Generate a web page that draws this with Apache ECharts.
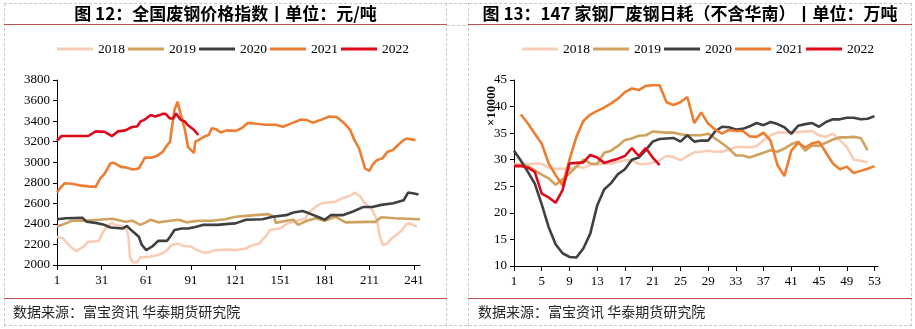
<!DOCTYPE html>
<html>
<head>
<meta charset="utf-8">
<script src="https://cdn.jsdelivr.net/npm/echarts@6/dist/echarts.min.js"></script>
<style>
  html, body { margin: 0; padding: 0; background: #fff; }
  #chart { width: 915px; height: 329px; }
</style>
</head>
<body>
<div id="chart"></div>
<script>
// ---- Figure 12: national scrap steel price index (yuan/ton), [day, value]
const years = ['2018', '2019', '2020', '2021', '2022'];
const colors = ['#F9CDB5', '#CFA25E', '#404040', '#ED7D31', '#E0081B'];

const price2018 = [[1,2275],[5,2260],[10,2180],[14,2135],[19,2180],[22,2225],[29,2235],[32,2325],[36,2390],[38,2410],[40,2390],[45,2375],[48,2340],[49,2275],[50,2080],[52,2025],[55,2030],[57,2075],[63,2080],[67,2090],[72,2115],[75,2145],[78,2195],[82,2210],[86,2185],[91,2180],[95,2145],[100,2120],[103,2120],[107,2145],[116,2150],[121,2145],[128,2160],[131,2185],[137,2210],[139,2245],[142,2290],[144,2340],[151,2355],[156,2405],[160,2420],[168,2455],[170,2505],[175,2570],[179,2600],[188,2615],[193,2650],[199,2680],[201,2705],[205,2665],[207,2615],[213,2535],[216,2440],[218,2275],[220,2195],[223,2210],[226,2260],[229,2290],[233,2340],[236,2400],[238,2405],[242,2380],[243,2380]];
const price2019 = [[1,2375],[7,2405],[11,2430],[18,2430],[29,2440],[38,2450],[47,2420],[52,2430],[57,2390],[60,2410],[64,2440],[69,2415],[77,2430],[83,2440],[88,2415],[96,2430],[105,2430],[114,2445],[121,2470],[130,2480],[143,2495],[147,2470],[148,2410],[155,2430],[160,2440],[163,2390],[169,2430],[175,2455],[181,2430],[188,2470],[195,2415],[210,2420],[215,2420],[219,2465],[228,2455],[245,2445]];
const price2020 = [[1,2445],[7,2455],[18,2460],[21,2420],[27,2410],[32,2395],[37,2365],[45,2355],[48,2380],[52,2325],[56,2275],[58,2195],[61,2145],[65,2180],[69,2235],[75,2235],[77,2275],[80,2340],[85,2355],[89,2355],[94,2370],[99,2390],[109,2390],[116,2400],[121,2405],[128,2440],[139,2445],[146,2470],[155,2485],[160,2510],[166,2525],[170,2505],[177,2465],[181,2440],[185,2485],[193,2485],[200,2520],[207,2565],[213,2565],[219,2585],[227,2600],[234,2630],[237,2705],[241,2695],[244,2685]];
const price2021 = [[1,2705],[3,2745],[6,2795],[11,2790],[16,2775],[22,2765],[27,2760],[30,2840],[33,2890],[37,2990],[39,2995],[44,2955],[47,2950],[52,2930],[56,2940],[58,2990],[60,3045],[65,3045],[68,3060],[72,3100],[75,3165],[77,3200],[78,3315],[80,3510],[82,3590],[84,3475],[87,3315],[89,3150],[91,3120],[93,3090],[94,3200],[96,3215],[100,3250],[103,3265],[105,3330],[108,3320],[111,3290],[115,3310],[121,3305],[125,3330],[129,3380],[132,3380],[141,3365],[148,3365],[153,3345],[159,3380],[165,3415],[169,3410],[173,3385],[178,3410],[184,3445],[189,3440],[194,3380],[198,3315],[201,3215],[204,3135],[206,3040],[208,2940],[211,2915],[213,2975],[216,3020],[220,3040],[223,3100],[227,3120],[230,3165],[234,3215],[236,3230],[242,3215]];
const price2022 = [[1,3210],[4,3255],[22,3255],[27,3300],[33,3295],[38,3255],[42,3300],[47,3310],[51,3340],[55,3350],[57,3395],[60,3415],[64,3460],[67,3445],[72,3470],[74,3470],[77,3425],[79,3425],[81,3475],[84,3415],[87,3395],[89,3360],[93,3315],[96,3265]];
const priceTicks = [1, 31, 61, 91, 121, 151, 181, 211, 241];

// ---- Figure 13: weekly scrap consumption of 147 mills (10k tons), week 1..53
const cons2018 = [29.1,29.2,29.2,29.3,29.2,28.5,28.3,28.3,28.2,28.7,28.5,29.0,29.1,29.3,29.2,29.6,29.9,29.9,29.2,29.2,29.4,29.9,30.7,30.5,29.9,30.7,31.4,31.5,31.7,31.5,31.5,31.9,32.4,32.4,32.3,32.6,33.7,34.6,35.1,35.1,35.1,35.2,35.3,35.4,34.6,34.3,34.9,33.7,32.4,30.0,29.8,29.5];
const cons2019 = [29.0,29.0,28.8,28.0,27.2,26.5,25.3,26.3,27.4,28.7,30.0,29.3,29.2,31.3,31.7,32.6,33.7,34.0,34.5,34.6,35.3,35.2,35.1,35.1,34.8,34.6,34.6,34.6,34.9,34.0,33.1,32.1,30.8,30.8,30.4,30.9,31.3,31.8,31.5,32.1,32.9,33.4,31.7,32.7,32.6,33.2,33.8,34.2,34.2,34.3,34.1,31.8];
const cons2020 = [31.7,29.8,27.7,25.5,21.6,17.3,14.1,12.4,11.7,11.6,13.3,16.1,21.4,24.4,25.6,27.3,28.2,30.0,30.4,31.8,33.4,33.9,34.0,34.1,33.4,34.6,33.4,33.6,33.6,35.3,36.2,36.1,35.7,35.8,36.3,36.9,36.5,37.1,36.7,36.1,34.9,36.4,36.7,36.9,36.2,37.1,37.6,37.6,37.9,37.9,37.6,37.7,38.2];
const cons2021 = [null,38.5,36.8,34.9,33.0,29.3,27.1,25.2,30.0,34.3,37.3,38.5,39.2,39.8,40.6,41.5,42.7,43.4,43.1,43.9,44.0,44.0,40.8,40.3,40.8,41.8,36.9,38.9,36.8,35.7,34.9,35.6,35.4,35.4,34.4,34.3,35.1,33.6,29.0,26.9,31.7,33.2,32.3,33.1,33.4,31.3,29.3,28.2,28.7,27.5,27.9,28.3,28.8];
const cons2022 = [28.8,28.8,28.5,27.7,23.6,22.9,21.9,24.3,29.3,29.4,29.5,30.9,30.4,29.4,29.8,30.2,30.7,32.2,30.7,32.2,30.4,29.0];
const weekTicks = [1, 5, 9, 13, 17, 21, 25, 29, 33, 37, 41, 45, 49, 53];

const priceSeries = [price2018, price2019, price2020, price2021, price2022];
const consSeries = [cons2018, cons2019, cons2020, cons2021, cons2022];

const serif = 'Liberation Serif, Times New Roman, serif';
const cjk = 'Noto Sans CJK SC, sans-serif';
const axisText = { fontFamily: serif, fontSize: 13, color: '#000', formatter: v => String(v) };

function xAxisFor(grid, max, ticks) {
  return {
    type: 'value', gridIndex: grid, min: 1, max: max,
    axisLine: { show: true, onZero: false, lineStyle: { color: '#000', width: 1 } },
    axisTick: { show: true, length: 5, lineStyle: { color: '#000' }, customValues: ticks },
    axisLabel: Object.assign({ margin: 9, customValues: ticks }, axisText),
    splitLine: { show: false }
  };
}
function yAxisFor(grid, min, max, step) {
  return {
    type: 'value', gridIndex: grid, min: min, max: max, interval: step,
    axisLine: { show: true, lineStyle: { color: '#000', width: 1 } },
    axisTick: { show: true, length: 4, lineStyle: { color: '#000' } },
    axisLabel: Object.assign({ margin: 7 }, axisText),
    splitLine: { show: false }
  };
}

const series = [];
years.forEach((y, i) => {
  series.push({
    name: y, type: 'line', xAxisIndex: 0, yAxisIndex: 0,
    data: priceSeries[i], showSymbol: false, symbol: 'none',
    lineStyle: { color: colors[i], width: 2.6 }, itemStyle: { color: colors[i] }, z: 2 + i
  });
});
years.forEach((y, i) => {
  series.push({
    name: y, type: 'line', xAxisIndex: 1, yAxisIndex: 1,
    data: consSeries[i].map((v, k) => [k + 1, v]), showSymbol: false, symbol: 'none',
    connectNulls: false,
    lineStyle: { color: colors[i], width: 2.6 }, itemStyle: { color: colors[i] }, z: 2 + i
  });
});

function legendAt(left) {
  return {
    left: left, top: 42, orient: 'horizontal', padding: 0,
    icon: 'rect', itemWidth: 36, itemHeight: 3, itemGap: 3,
    data: years, selectedMode: false,
    textStyle: { fontFamily: serif, fontSize: 13.5, color: '#000' }
  };
}

const dash = { stroke: '#c8c8c8', lineWidth: 1, lineDash: [3, 2] };
const rule = { stroke: '#C0504D', lineWidth: 1.2 };
function hline(x1, x2, y, style) { return { type: 'line', shape: { x1: x1, y1: y, x2: x2, y2: y }, style: style, silent: true }; }
function vline(x, y1, y2, style) { return { type: 'line', shape: { x1: x, y1: y1, x2: x, y2: y2 }, style: style, silent: true }; }
function label(text, x, y, font, align, extra) {
  return Object.assign({
    type: 'text', x: x, y: y, silent: true,
    style: Object.assign({ text: text, fill: '#000', align: align, verticalAlign: 'middle' }, font)
  }, extra || {});
}

const graphic = [
  hline(4, 912, 3.5, dash), hline(4, 912, 325.5, dash), hline(447, 468, 25.5, dash),
  vline(4.5, 3, 326, dash), vline(446.5, 3, 326, dash),
  vline(468.5, 3, 326, dash), vline(911.5, 3, 326, dash),
  hline(4, 447, 24.5, rule), hline(468, 912, 24.5, rule),
  hline(4, 447, 298.5, rule), hline(468, 912, 298.5, rule),
  label('图 12：全国废钢价格指数丨单位：元/吨', 225.5, 14,
    { fontFamily: cjk, fontSize: 17, fontWeight: 'bold' }, 'center'),
  label('图 13：147 家钢厂废钢日耗（不含华南）丨单位：万吨', 690, 14,
    { fontFamily: cjk, fontSize: 17, fontWeight: 'bold' }, 'center'),
  label('数据来源：富宝资讯 华泰期货研究院', 13, 312,
    { fontFamily: cjk, fontSize: 14, fill: '#262626' }, 'left'),
  label('数据来源：富宝资讯 华泰期货研究院', 478, 312,
    { fontFamily: cjk, fontSize: 14, fill: '#262626' }, 'left'),
  label('×10000', 492, 106,
    { fontFamily: serif, fontSize: 13, fontWeight: 'bold' }, 'center', { rotation: Math.PI / 2 })
];

const chart = echarts.init(document.getElementById('chart'), null, { renderer: 'canvas' });
chart.setOption({
  animation: false,
  backgroundColor: '#fff',
  grid: [
    { left: 57, top: 80, width: 363, height: 185 },
    { left: 514, top: 80, width: 364, height: 186 }
  ],
  legend: [legendAt(57), legendAt(522)],
  xAxis: [xAxisFor(0, 245, priceTicks), xAxisFor(1, 53.5, weekTicks)],
  yAxis: [yAxisFor(0, 2000, 3800, 200), yAxisFor(1, 10, 45, 5)],
  series: series,
  graphic: graphic
});
</script>
</body>
</html>
